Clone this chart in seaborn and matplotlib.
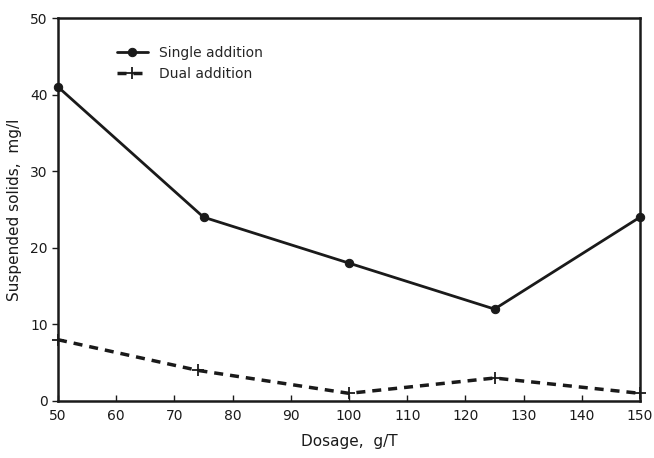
import matplotlib
matplotlib.use("Agg")
import matplotlib.pyplot as plt
import seaborn as sns
import pandas as pd

single_x = [50, 75, 100, 125, 150]
single_y = [41, 24, 18, 12, 24]
dual_x = [50, 74, 100, 125, 150]
dual_y = [8, 4, 1, 3, 1]
x_ticks = [50, 60, 70, 80, 90, 100, 110, 120, 130, 140, 150]
y_ticks = [0, 10, 20, 30, 40, 50]

sns.set_theme(style="white")
plt.rcParams['font.family'] = ['DejaVu Sans']

df_s = pd.DataFrame({"x": single_x, "y": single_y})
df_d = pd.DataFrame({"x": dual_x, "y": dual_y})

ink = "#1a1a1a"
fig = plt.figure(figsize=(6.54, 4.58), dpi=100)
ax = fig.add_axes([58/654, 1 - 401/458, (640-58)/654, (401-18)/458])

sns.lineplot(data=df_s, x="x", y="y", ax=ax, color=ink, linewidth=2,
             marker="o", markersize=6, markeredgecolor=ink, markerfacecolor=ink,
             label="Single addition", clip_on=False)
sns.lineplot(data=df_d, x="x", y="y", ax=ax, color=ink, linewidth=2.5,
             marker="+", markersize=9, markeredgewidth=1.3, markeredgecolor=ink,
             label="Dual addition", linestyle=(0, (2.6, 2.0)), clip_on=False)

ax.set_xlim(50, 150)
ax.set_ylim(0, 50)
ax.set_xticks(x_ticks)
ax.set_yticks(y_ticks)
ax.tick_params(axis="x", direction="in", length=4, width=1, labelsize=10, colors=ink, pad=6)
ax.tick_params(axis="y", direction="out", length=4, width=1, labelsize=10, colors=ink)
ax.tick_params(bottom=True, left=True)
for s in ax.spines.values():
    s.set_color(ink)
    s.set_linewidth(1.8)
ax.set_xlabel("Dosage,  g/T", fontsize=11, color=ink, labelpad=8)
ax.set_ylabel("Suspended solids,  mg/l", fontsize=11, color=ink, labelpad=6)

leg = ax.legend(loc="upper left", bbox_to_anchor=(0.08, 0.96), frameon=False,
                fontsize=10, handlelength=2.2, handletextpad=0.8, labelspacing=0.5)

fig.savefig("out.png", dpi=100)
